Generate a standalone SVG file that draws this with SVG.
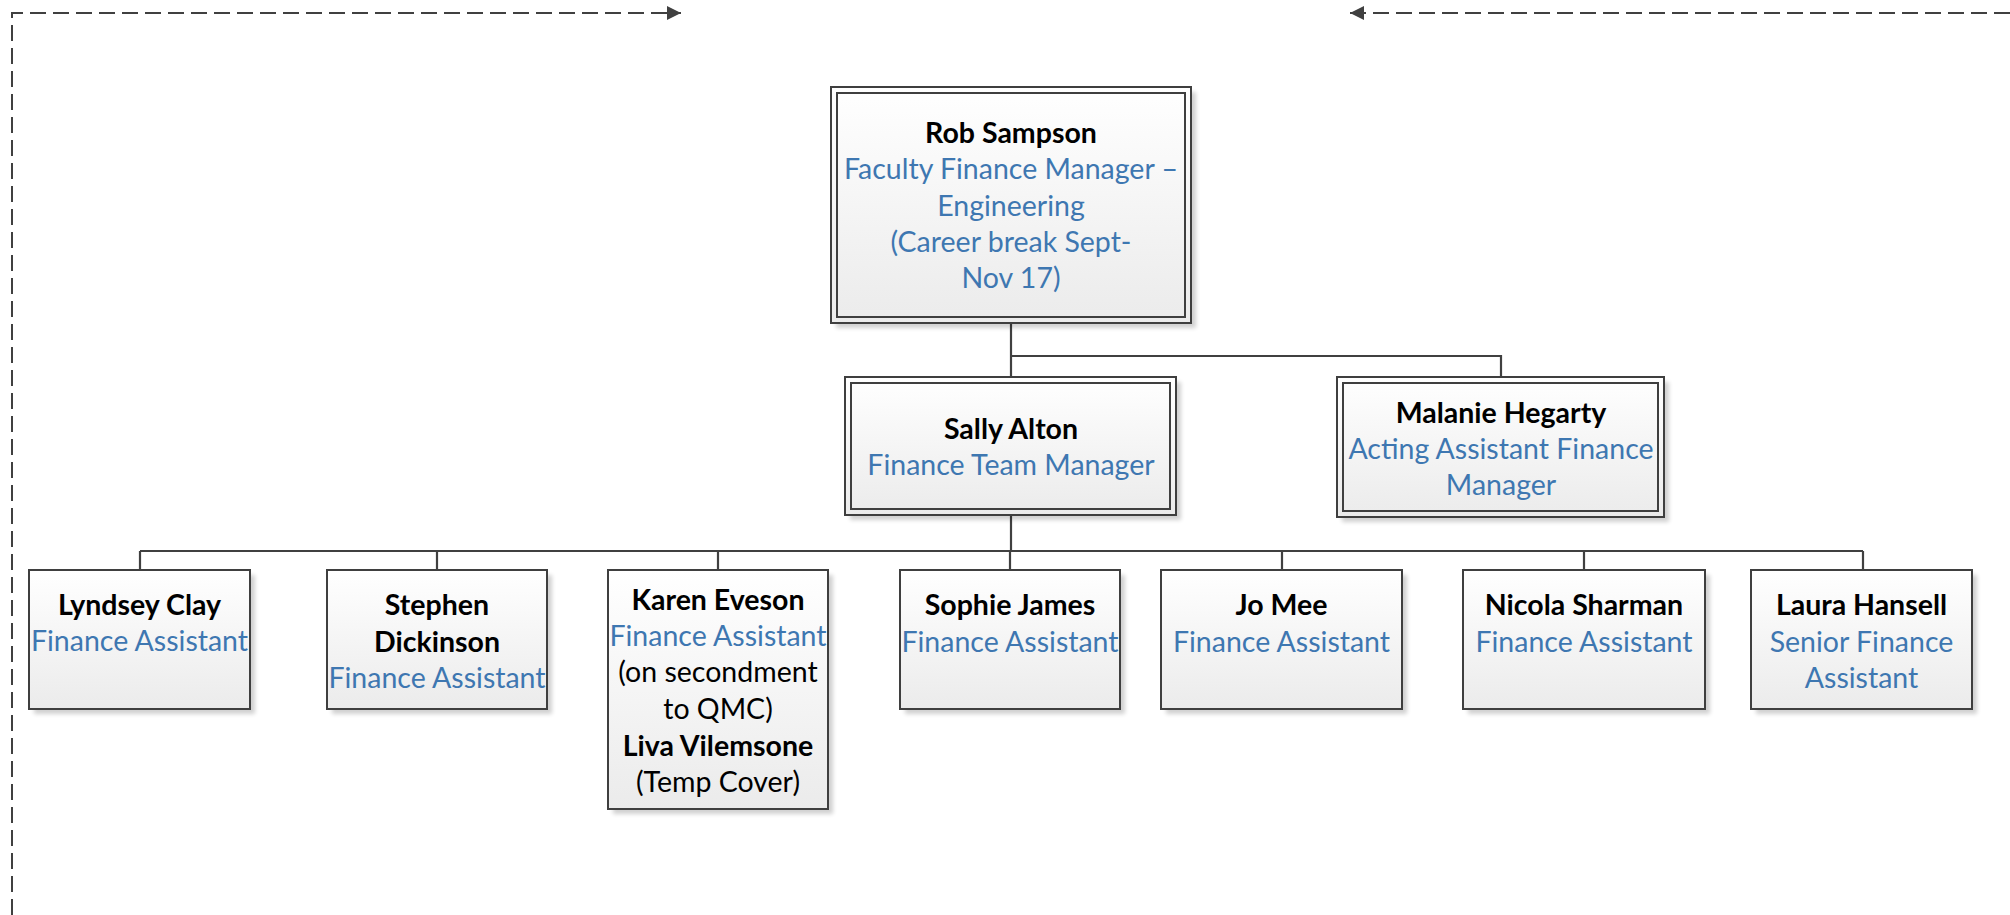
<svg xmlns="http://www.w3.org/2000/svg" width="2010" height="915" viewBox="0 0 2010 915">
<style>
.box{fill:url(#g);stroke:#3f3f3f;stroke-width:2}
.inner{fill:none;stroke:#3f3f3f;stroke-width:2}
.sh{fill:#000;opacity:0.18;filter:url(#blur)}
.con{fill:none;stroke:#404040;stroke-width:2.2}
.dash{fill:none;stroke:#404040;stroke-width:2;stroke-dasharray:16 7}
text{font-family:Lato,"Liberation Sans",sans-serif;font-size:28.5px;text-anchor:middle}
.n{font-weight:bold;fill:#000}
.t{fill:#3e77b1}
.k{fill:#000}
</style>
<defs>
<linearGradient id="g" x1="0" y1="0" x2="0" y2="1">
<stop offset="0" stop-color="#ffffff"/>
<stop offset="1" stop-color="#ebebeb"/>
</linearGradient>
<filter id="blur" x="-10%" y="-10%" width="120%" height="120%"><feGaussianBlur stdDeviation="2"/></filter>
<marker id="arr" viewBox="0 0 10 10" refX="10" refY="5" markerWidth="14" markerHeight="14" markerUnits="userSpaceOnUse" orient="auto">
<path d="M0,0 L10,5 L0,10 z" fill="#404040"/>
</marker>
</defs>
<rect width="2010" height="915" fill="#fff"/>

<g id="connectors">
<path class="dash" d="M12,915 L12,13 L681,13" marker-end="url(#arr)"/>
<path class="dash" d="M2010,13 L1350,13" marker-end="url(#arr)"/>
<path class="con" d="M1011,323 L1011,377 M1011,356 L1501,356 L1501,377"/>
<path class="con" d="M1011,515 L1011,551 M140,551 L1863,551 M140,551 L140,570 M437,551 L437,570 M718,551 L718,570 M1010,551 L1010,570 M1282,551 L1282,570 M1584,551 L1584,570 M1863,551 L1863,570"/>
</g>

<g id="rob">
<rect class="sh" x="836" y="92" width="360" height="236"/>
<rect class="box" x="831" y="87" width="360" height="236"/>
<rect class="inner" x="837" y="93" width="348" height="224"/>
<text class="n" x="1011" y="143">Rob Sampson</text>
<text class="t" x="1011" y="179">Faculty Finance Manager –</text>
<text class="t" x="1011" y="216">Engineering</text>
<text class="t" x="1011" y="252">(Career break Sept-</text>
<text class="t" x="1011" y="288">Nov 17)</text>
</g>

<g id="sally">
<rect class="sh" x="850" y="382" width="331" height="138"/>
<rect class="box" x="845" y="377" width="331" height="138"/>
<rect class="inner" x="851" y="383" width="319" height="126"/>
<text class="n" x="1011" y="439">Sally Alton</text>
<text class="t" x="1011" y="475">Finance Team Manager</text>
</g>

<g id="malanie">
<rect class="sh" x="1342" y="382" width="327" height="140"/>
<rect class="box" x="1337" y="377" width="327" height="140"/>
<rect class="inner" x="1343" y="383" width="315" height="128"/>
<text class="n" x="1501" y="423">Malanie Hegarty</text>
<text class="t" x="1501" y="459">Acting Assistant Finance</text>
<text class="t" x="1501" y="495">Manager</text>
</g>

<g id="lyndsey">
<rect class="sh" x="34" y="575" width="221" height="139"/>
<rect class="box" x="29" y="570" width="221" height="139"/>
<text class="n" x="139.5" y="615">Lyndsey Clay</text>
<text class="t" x="139.5" y="651">Finance Assistant</text>
</g>

<g id="stephen">
<rect class="sh" x="332" y="575" width="220" height="139"/>
<rect class="box" x="327" y="570" width="220" height="139"/>
<text class="n" x="437" y="615">Stephen</text>
<text class="n" x="437" y="652">Dickinson</text>
<text class="t" x="437" y="688">Finance Assistant</text>
</g>

<g id="karen">
<rect class="sh" x="613" y="575" width="220" height="239"/>
<rect class="box" x="608" y="570" width="220" height="239"/>
<text class="n" x="718" y="610">Karen Eveson</text>
<text class="t" x="718" y="646">Finance Assistant</text>
<text class="k" x="718" y="682">(on secondment</text>
<text class="k" x="718" y="719">to QMC)</text>
<text class="n" x="718" y="756">Liva Vilemsone</text>
<text class="k" x="718" y="792">(Temp Cover)</text>
</g>

<g id="sophie">
<rect class="sh" x="905" y="575" width="220" height="139"/>
<rect class="box" x="900" y="570" width="220" height="139"/>
<text class="n" x="1010" y="615">Sophie James</text>
<text class="t" x="1010" y="652">Finance Assistant</text>
</g>

<g id="jo">
<rect class="sh" x="1166" y="575" width="241" height="139"/>
<rect class="box" x="1161" y="570" width="241" height="139"/>
<text class="n" x="1281.5" y="615">Jo Mee</text>
<text class="t" x="1281.5" y="652">Finance Assistant</text>
</g>

<g id="nicola">
<rect class="sh" x="1468" y="575" width="242" height="139"/>
<rect class="box" x="1463" y="570" width="242" height="139"/>
<text class="n" x="1584" y="615">Nicola Sharman</text>
<text class="t" x="1584" y="652">Finance Assistant</text>
</g>

<g id="laura">
<rect class="sh" x="1756" y="575" width="221" height="139"/>
<rect class="box" x="1751" y="570" width="221" height="139"/>
<text class="n" x="1861.5" y="615">Laura Hansell</text>
<text class="t" x="1861.5" y="652">Senior Finance</text>
<text class="t" x="1861.5" y="688">Assistant</text>
</g>
</svg>
